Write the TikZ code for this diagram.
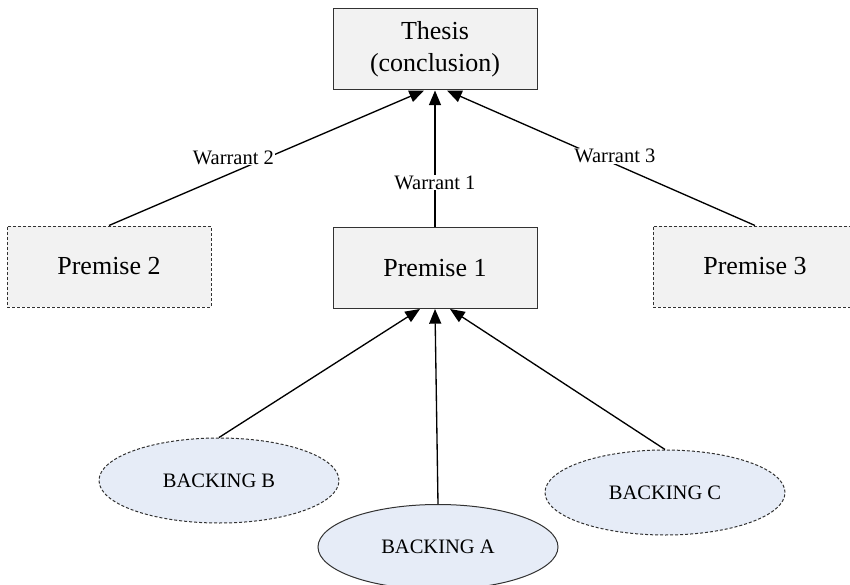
\documentclass[tikz,border=0pt]{standalone}
\usepackage{fontspec}
\setmainfont{Liberation Serif}
\usepackage{tikz}
\usetikzlibrary{arrows.meta}
\usetikzlibrary{shapes}
\usetikzlibrary{calc}

\begin{document}
\begin{tikzpicture}[x=0.75pt,y=0.75pt,yscale=-1,xscale=1,
  boxnode/.style={draw={rgb,255:red,50;green,50;blue,50},fill={rgb,255:red,242;green,242;blue,242},line width=0.75pt,minimum width=153pt,minimum height=60.75pt,inner sep=0.75pt,align=center,font=\fontsize{19.5}{24}\selectfont},
  dashbox/.style={boxnode,dash pattern=on 2.25pt off 1.5pt},
  backnode/.style={ellipse,draw={rgb,255:red,50;green,50;blue,50},fill={rgb,255:red,230;green,236;blue,247},line width=0.75pt,minimum width=180pt,minimum height=63.75pt,inner sep=0.75pt,font=\fontsize{15.4}{18}\selectfont},
  dashback/.style={backnode,dash pattern=on 2.25pt off 1.5pt},
  arr/.style={line width=1pt,-{Triangle[length=11pt,width=9pt]}},
  warr/.style={fill=white,inner sep=0.75pt,font=\fontsize{15.4}{18}\selectfont}]
\useasboundingbox (0,0) rectangle (850,585);
% boxes
\node[boxnode] (thes) at (435,49.5) {Thesis\\(conclusion)};
\node[boxnode] (p1) at (435,268) {Premise 1};
\node[dashbox] (p2) at (109,266.5) {Premise 2};
\node[dashbox] (p3) at (755,266.5) {Premise 3};
% backings
\node[dashback] (bb) at (219,480.5) {BACKING B};
\node[backnode] (ba) at (438,547) {BACKING A};
\node[dashback] (bc) at (665,492.5) {BACKING C};
% warrants
\draw[arr] (p1.north) -- node[warr,pos=0.326] {Warrant 1} (thes.south);
\draw[arr] (p2.north) -- node[warr,pos=0.395,yshift=11pt] {Warrant 2} ($(thes.south)+(-11,0)$);
\draw[arr] (p3.north) -- node[warr,pos=0.455,yshift=6pt] {Warrant 3} ($(thes.south)+(12,0)$);
% backing arrows
\draw[arr] (bb.north) -- ($(p1.south)+(-15,0)$);
\draw[arr] (ba.north) -- (p1.south);
\draw[arr] (bc.north) -- ($(p1.south)+(15,0)$);
\end{tikzpicture}
\end{document}
